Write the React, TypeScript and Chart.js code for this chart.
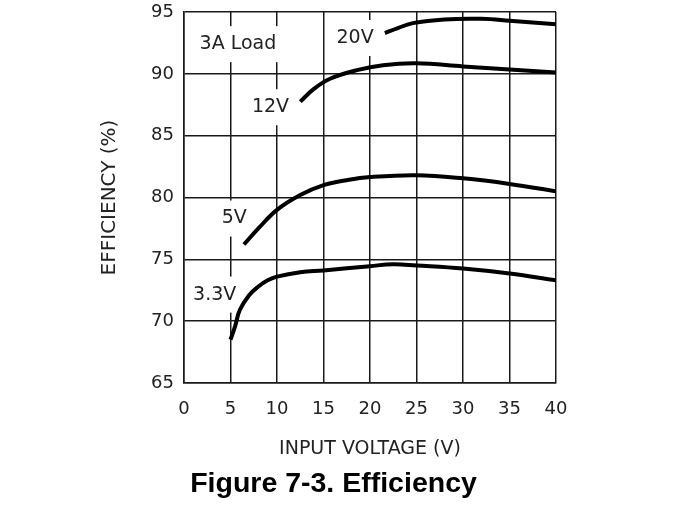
import React, { useEffect, useRef } from "react";
import { Chart, registerables } from "chart.js";

Chart.register(...registerables);

const xTicks = [0, 5, 10, 15, 20, 25, 30, 35, 40];
const yTicks = [65, 70, 75, 80, 85, 90, 95];

const v33X = [5, 5.5, 6, 7, 8, 9, 10, 12.5, 15, 20, 22.5, 25, 30, 35, 40];
const v33Y = [68.5, 69.6, 70.9, 72.1, 72.8, 73.3, 73.6, 73.95, 74.1, 74.45, 74.6, 74.5, 74.25, 73.85, 73.3];

const v5X = [6.45, 8, 10, 12.5, 15, 17.5, 20, 25, 30, 35, 40];
const v5Y = [76.2, 77.5, 79.0, 80.2, 81.0, 81.4, 81.65, 81.8, 81.55, 81.1, 80.5];

const v12X = [12.5, 14, 15.7, 18.6, 21.4, 25, 30, 35, 40];
const v12Y = [87.75, 88.8, 89.6, 90.3, 90.7, 90.85, 90.6, 90.35, 90.1];

const v20X = [21.6, 23, 24.6, 28, 32, 35, 40];
const v20Y = [93.3, 93.7, 94.1, 94.4, 94.45, 94.3, 94.0];

const labelTexts = ["3A Load", "20V", "12V", "5V", "3.3V"];
const labelX = [5.8, 18.4, 9.3, 5.4, 3.3];
const labelY = [92.4, 92.9, 87.3, 78.3, 72.15];

const xTitle = "INPUT VOLTAGE (V)";
const yTitle = "EFFICIENCY (%)";
const caption = "Figure 7-3. Efficiency";

const TEXT_FONT = '"DejaVu Sans", sans-serif';

const toPoints = (xs: number[], ys: number[]) => xs.map((x, i) => ({ x, y: ys[i] }));

const labelPlugin = {
  id: "curveLabels",
  beforeDatasetsDraw(chart: any) {
    const { ctx, scales } = chart;
    ctx.save();
    ctx.font = `19px ${TEXT_FONT}`;
    ctx.textAlign = "center";
    ctx.textBaseline = "middle";
    labelTexts.forEach((t, i) => {
      const px = scales.x.getPixelForValue(labelX[i]);
      const py = scales.y.getPixelForValue(labelY[i]);
      const w = ctx.measureText(t).width;
      ctx.fillStyle = "#ffffff";
      ctx.fillRect(px - w / 2 - 4, py - 18, w + 8, 36);
      ctx.fillStyle = "#222222";
      ctx.fillText(t, px, py);
    });
    ctx.restore();
  },
  afterDraw(chart: any) {
    const { ctx, chartArea } = chart;
    ctx.save();
    ctx.font = 'bold 28.5px "Liberation Sans", Arial, sans-serif';
    ctx.textAlign = "center";
    ctx.textBaseline = "alphabetic";
    ctx.fillStyle = "#000000";
    const cx = (chartArea.left + chartArea.right) / 2 - 36.5;
    ctx.fillText(caption, cx, chartArea.bottom + 109);
    ctx.restore();
  },
};

export default function App() {
  const ref = useRef<HTMLCanvasElement | null>(null);
  useEffect(() => {
    if (!ref.current) return;
    const lineStyle = {
      borderColor: "#000000",
      borderWidth: 4,
      pointRadius: 0,
      fill: false,
      tension: 0.4,
      borderCapStyle: "butt" as const,
    };
    const chart = new Chart(ref.current, {
      type: "line",
      data: {
        datasets: [
          { label: "3.3V", data: toPoints(v33X, v33Y), ...lineStyle },
          { label: "5V", data: toPoints(v5X, v5Y), ...lineStyle },
          { label: "12V", data: toPoints(v12X, v12Y), ...lineStyle },
          { label: "20V", data: toPoints(v20X, v20Y), ...lineStyle },
        ],
      },
      options: {
        animation: false,
        responsive: false,
        layout: { padding: { left: 98, right: 137, top: 12, bottom: 48 } },
        plugins: {
          legend: { display: false },
          tooltip: { enabled: false },
          title: { display: false },
        },
        scales: {
          x: {
            type: "linear",
            min: 0,
            max: 40,
            afterBuildTicks: (s: any) => {
              s.ticks = xTicks.map((v) => ({ value: v }));
            },
            afterFit: (s: any) => {
              s.height = 77;
            },
            grid: { color: "#1a1a1a", lineWidth: 1.5, drawTicks: false },
            border: { display: true, color: "#1a1a1a", width: 1.5 },
            ticks: {
              color: "#222222",
              font: { family: TEXT_FONT, size: 18 },
              padding: 16,
              maxRotation: 0,
              autoSkip: false,
            },
            title: {
              display: true,
              text: xTitle,
              color: "#222222",
              font: { family: TEXT_FONT, size: 19 },
              padding: 0,
            },
          },
          y: {
            type: "linear",
            min: 65,
            max: 95,
            afterBuildTicks: (s: any) => {
              s.ticks = yTicks.map((v) => ({ value: v }));
            },
            afterFit: (s: any) => {
              s.width = 86;
              s.paddingTop = 0;
              s.paddingBottom = 0;
            },
            grid: { color: "#1a1a1a", lineWidth: 1.5, drawTicks: false },
            border: { display: true, color: "#1a1a1a", width: 1.5 },
            ticks: {
              color: "#222222",
              font: { family: TEXT_FONT, size: 18 },
              padding: 10,
              autoSkip: false,
            },
            title: {
              display: true,
              text: yTitle,
              color: "#222222",
              font: { family: TEXT_FONT, size: 20 },
              padding: 0,
            },
          },
        },
      },
      plugins: [labelPlugin],
    });
    return () => chart.destroy();
  }, []);
  return (
    <div style={{ position: "absolute", left: 0, top: 0, width: 693, height: 508, background: "#fff" }}>
      <canvas ref={ref} width={693} height={508} />
    </div>
  );
}
